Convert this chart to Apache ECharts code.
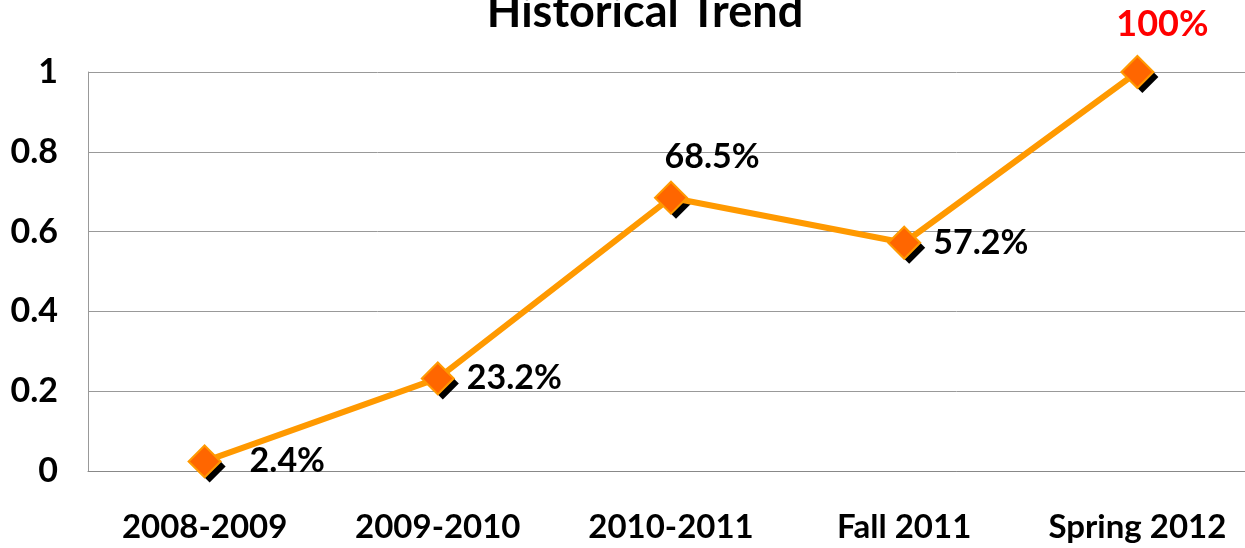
<!DOCTYPE html>
<html>
<head>
<meta charset="utf-8">
<script src="https://cdn.jsdelivr.net/npm/echarts@6/dist/echarts.min.js"></script>
<style>
  html, body { margin: 0; padding: 0; background: #fff; }
  #chart { width: 1245px; height: 548px; }
</style>
</head>
<body>
<div id="chart"></div>
<script>
// data
const categories = ["2008-2009", "2009-2010", "2010-2011", "Fall 2011", "Spring 2012"];
const values = [0.024, 0.232, 0.685, 0.572, 1.0];
const labelTexts = ["2.4%", "23.2%", "68.5%", "57.2%", "100%"];
const labelSides = ["right", "right", "top", "right", "top"];
const labelGaps = [28, 12, 7, 12, 13];
const labelShiftX = [0, 0, 41, 0, 25];

const chart = echarts.init(document.getElementById("chart"));
const font = "Lato, 'Open Sans', sans-serif";

const seriesData = values.map((v, i) => {
    const isLast = i === values.length - 1;
    return {
        value: v,
        label: {
            show: true,
            formatter: labelTexts[i],
            position: labelSides[i],
            distance: labelGaps[i],
            offset: [labelShiftX[i], 0],
            color: isLast ? "#ff0000" : "#000",
            fontSize: isLast ? 36 : 34,
            fontWeight: "bold",
            fontFamily: font
        }
    };
});

chart.setOption({
    animation: false,
    title: {
        text: "Historical Trend",
        left: 640,
        textAlign: "center",
        top: -15,
        textStyle: { fontSize: 45, fontWeight: "bold", color: "#000", fontFamily: font }
    },
    // plot runs a little past the right edge of the picture
    grid: { left: 88, width: 1166, top: 72, bottom: 77, containLabel: false, outerBoundsMode: "none" },
    xAxis: {
        type: "category",
        data: categories,
        axisLine: { lineStyle: { color: "#888", width: 1 } },
        axisTick: { show: false },
        axisLabel: { margin: 40, fontSize: 33, fontWeight: "bold", color: "#000", fontFamily: font }
    },
    yAxis: {
        type: "value",
        min: 0,
        max: 1,
        interval: 0.2,
        axisLine: { show: true, lineStyle: { color: "#999", width: 1 } },
        axisTick: { show: false },
        splitLine: { lineStyle: { color: "#999", width: 1 } },
        axisLabel: { margin: 30, fontSize: 34, fontWeight: "bold", color: "#000", fontFamily: font }
    },
    series: [{
        // black drop shadow under each marker
        type: "line",
        data: values,
        symbol: "diamond",
        symbolSize: 32,
        symbolOffset: [5, 5],
        showSymbol: true,
        lineStyle: { opacity: 0 },
        itemStyle: { color: "#000" },
        silent: true,
        z: 1
    }, {
        type: "line",
        data: seriesData,
        symbol: "diamond",
        symbolSize: 32,
        lineStyle: { color: "#ff9900", width: 6 },
        itemStyle: {
            color: "#ff6600",
            borderColor: "#ff9900",
            borderWidth: 2
        },
        z: 2
    }]
});
</script>
</body>
</html>
